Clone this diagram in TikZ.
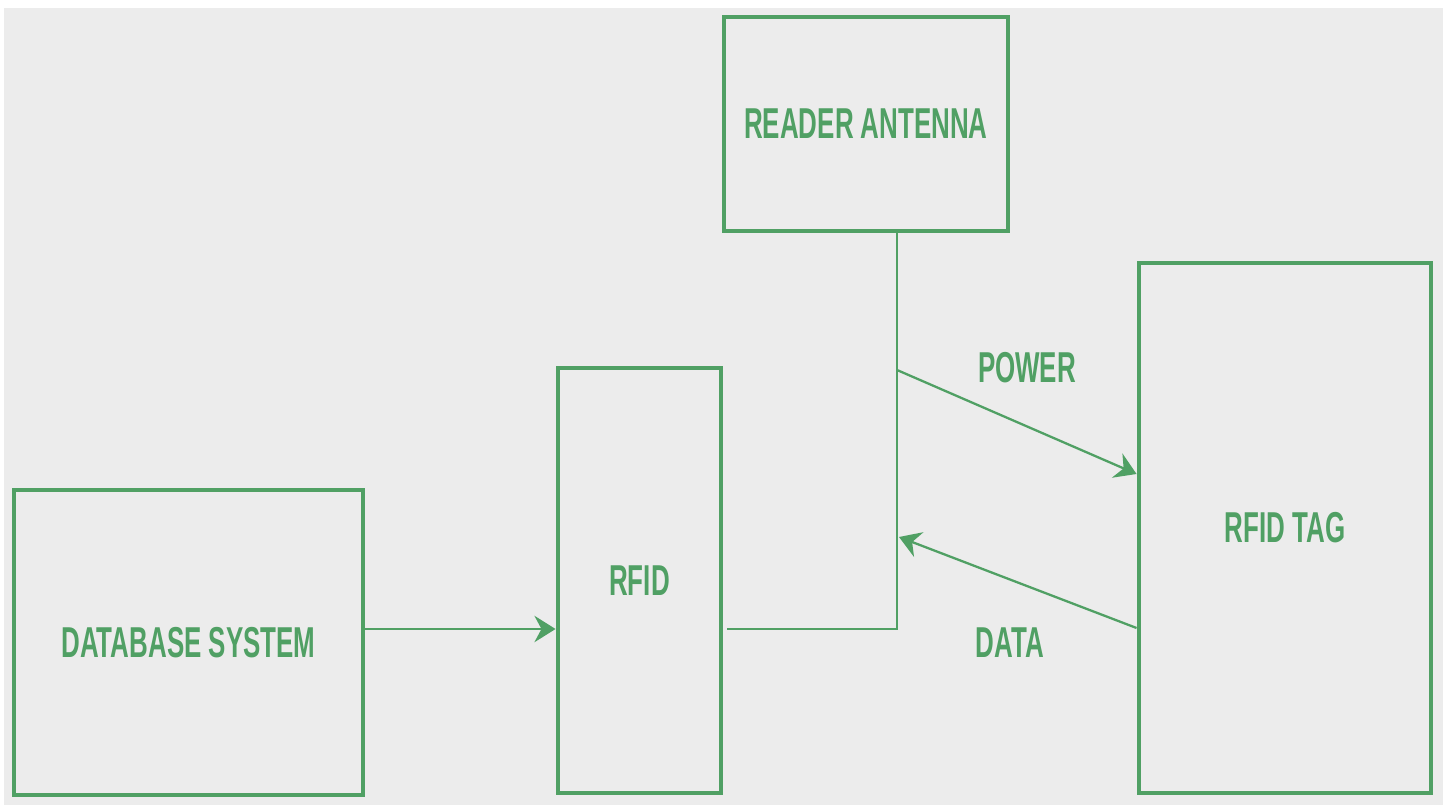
\documentclass[tikz,border=0pt]{standalone}
\usepackage{fontspec}
\usetikzlibrary{arrows.meta}
\newfontfamily\lblfont[FakeStretch=0.6]{Liberation Sans}
\definecolor{rfgreen}{RGB}{80,160,100}
\definecolor{rfgray}{RGB}{236,236,236}

\begin{document}
\begin{tikzpicture}[>={Stealth[length=6pt,width=7.5pt,inset=2pt]},every node/.style={font=\lblfont\bfseries\fontsize{12.3}{14}\selectfont,text=rfgreen},line width=.65pt]
\tikzset{blk/.style={draw=rfgreen,line width=1.4pt,inner sep=0pt}}
\useasboundingbox (0,0) rectangle (14.49,8.05);
\fill[white] (0,0) rectangle (14.49,8.05);
\fill[rfgray] (0.04,0) rectangle (14.43,7.97);
\node[blk,minimum width=3.49cm,minimum height=3.05cm] (db) at (1.885,1.625) {DATABASE SYSTEM};
\node[blk,minimum width=1.63cm,minimum height=4.25cm] (rfid) at (6.395,2.245) {RFID};
\node[blk,minimum width=2.84cm,minimum height=2.14cm] (ant) at (8.66,6.81) {READER ANTENNA};
\node[blk,minimum width=2.92cm,minimum height=5.30cm] (tag) at (12.85,2.77) {RFID TAG};
\coordinate (junc) at (8.97,1.76);
\coordinate (pwin) at (8.97,4.35);
\coordinate (dtout) at (8.99,2.68);
\draw[rfgreen,->] (db.east |- 0,1.76) -- (rfid.west |- 0,1.76);
\draw[rfgreen] ([xshift=0.4mm]rfid.east |- junc) -- (junc) -- (junc |- ant.south);
\draw[rfgreen,->] (pwin) -- (tag.west |- 0,3.31);
\draw[rfgreen,->] (tag.west |- 0,1.77) -- (dtout);
\node (power) at (10.27,4.37) {POWER};
\node (data) at (10.10,1.62) {DATA};
\end{tikzpicture}
\end{document}
